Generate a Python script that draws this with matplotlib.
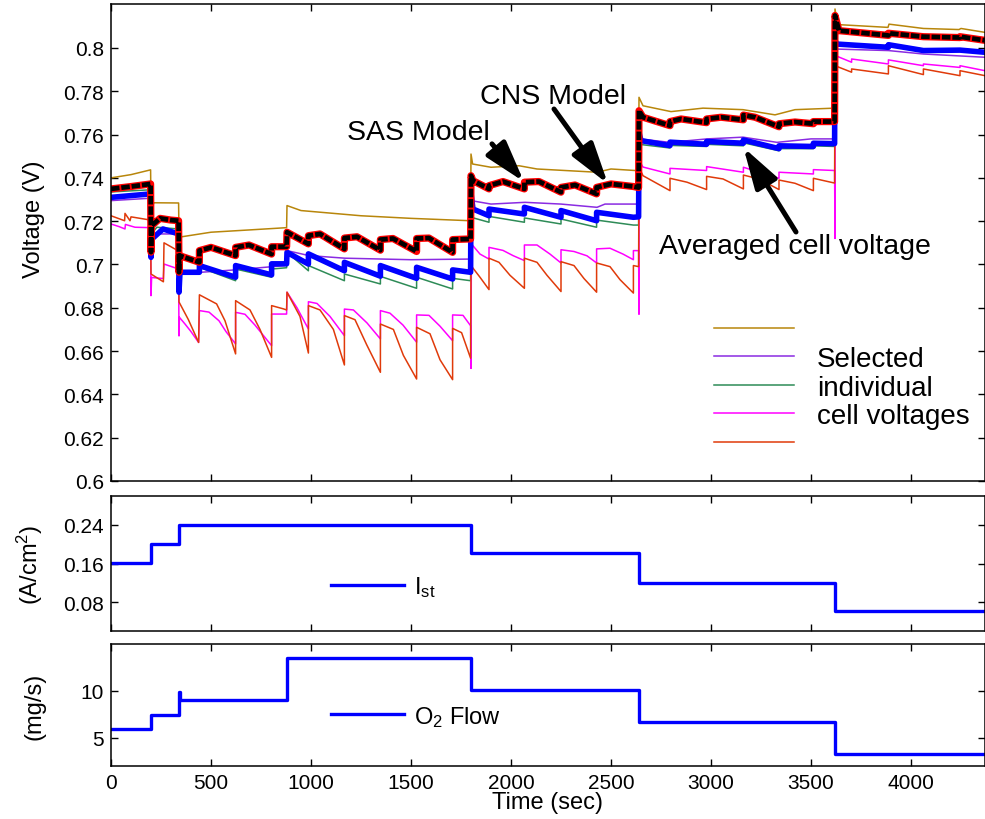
import matplotlib
matplotlib.use("Agg")
import matplotlib.pyplot as plt

plt.rcParams['font.family'] = ['Liberation Sans', 'DejaVu Sans']
plt.rcParams['mathtext.fontset'] = 'custom'
plt.rcParams['mathtext.rm'] = 'Liberation Sans'
plt.rcParams['mathtext.it'] = 'Liberation Sans'

# ---------------- data (time in s, voltage in V) ----------------
cell_brown = [(0, 0.7400), (100, 0.7415), (198, 0.7437), (200, 0.7256), (215, 0.7285), (338, 0.7284),
              (340, 0.7126), (500, 0.7149), (700, 0.7160), (878, 0.7170), (880, 0.7272), (950, 0.7249),
              (1250, 0.7225), (1500, 0.7213), (1798, 0.7202), (1800, 0.7510), (1808, 0.7464),
              (1900, 0.7449), (2040, 0.7456), (2130, 0.7441), (2430, 0.7426), (2500, 0.7441),
              (2638, 0.7433), (2640, 0.7772), (2660, 0.7733), (2800, 0.7706), (2960, 0.7722),
              (3160, 0.7715), (3320, 0.7691), (3420, 0.7715), (3618, 0.7722), (3620, 0.8180),
              (3632, 0.8108), (3885, 0.8095), (3890, 0.8110), (4062, 0.8090), (4240, 0.8085),
              (4250, 0.8090), (4370, 0.8072)]

cell_purple = [(0, 0.7295), (198, 0.7306), (200, 0.7141), (338, 0.7141), (340, 0.6964), (450, 0.6964),
               (620, 0.6975), (870, 0.6995), (880, 0.7064), (990, 0.7041), (1170, 0.7029),
               (1500, 0.7022), (1798, 0.7025), (1800, 0.7295), (1900, 0.7279), (2070, 0.7287),
               (2250, 0.7279), (2430, 0.7264), (2470, 0.7279), (2638, 0.7279), (2640, 0.7580),
               (2795, 0.7564), (2980, 0.7580), (3160, 0.7588), (3330, 0.7564), (3500, 0.7580),
               (3618, 0.7580), (3620, 0.7995), (3887, 0.7988), (4062, 0.7972), (4370, 0.7957)]

cell_green = [(0, 0.7335), (198, 0.7345), (200, 0.7141), (230, 0.7172), (338, 0.7164), (340, 0.6964),
              (442, 0.6956), (442, 0.6987), (623, 0.6925), (623, 0.6979), (803, 0.6941), (803, 0.6979),
              (878, 0.6985), (880, 0.7056), (987, 0.6971), (987, 0.6995), (1167, 0.6925),
              (1167, 0.6956), (1347, 0.6910), (1347, 0.6945), (1528, 0.6890), (1528, 0.6941),
              (1708, 0.6887), (1708, 0.6936), (1798, 0.6925), (1800, 0.7218), (1890, 0.7195),
              (1890, 0.7222), (2067, 0.7195), (2067, 0.7215), (2250, 0.7187), (2250, 0.7210),
              (2428, 0.7172), (2428, 0.7205), (2612, 0.7182), (2638, 0.7182), (2640, 0.7555),
              (2795, 0.7538), (2795, 0.7550), (2978, 0.7545), (2978, 0.7555), (3162, 0.7548),
              (3162, 0.7562), (3340, 0.7525), (3340, 0.7535), (3512, 0.7535), (3512, 0.7548),
              (3618, 0.7545), (3620, 0.8011), (3887, 0.8008), (3887, 0.8018), (4062, 0.7995),
              (4245, 0.7995), (4370, 0.7977)]

cell_magenta = [(0, 0.7187), (40, 0.7175), (70, 0.7164), (72, 0.7185), (120, 0.7172), (198, 0.7170),
                (200, 0.6856), (203, 0.6940), (262, 0.6935), (265, 0.7002), (338, 0.6979),
                (340, 0.6670), (342, 0.6756), (370, 0.6725), (400, 0.6690), (438, 0.6640),
                (442, 0.6787), (490, 0.6780), (540, 0.6740), (575, 0.6690), (623, 0.6633),
                (623, 0.6779), (670, 0.6770), (720, 0.6720), (803, 0.6625), (803, 0.6771),
                (878, 0.6771), (880, 0.6872), (930, 0.6800), (987, 0.6702), (987, 0.6828),
                (1030, 0.6820), (1095, 0.6760), (1167, 0.6671), (1167, 0.6794), (1212, 0.6790),
                (1280, 0.6730), (1347, 0.6656), (1347, 0.6787), (1395, 0.6775), (1460, 0.6720),
                (1528, 0.6641), (1528, 0.6767), (1590, 0.6765), (1645, 0.6715), (1708, 0.6648),
                (1708, 0.6767), (1760, 0.6765), (1798, 0.6717), (1800, 0.6520), (1802, 0.7095),
                (1845, 0.7048), (1890, 0.7025), (1890, 0.7079), (1960, 0.7065), (2010, 0.7041),
                (2067, 0.7018), (2067, 0.7090), (2130, 0.7090), (2195, 0.7048), (2250, 0.7007),
                (2250, 0.7068), (2315, 0.7060), (2380, 0.7040), (2428, 0.7007), (2428, 0.7072),
                (2495, 0.7075), (2560, 0.7048), (2612, 0.7022), (2612, 0.7064), (2638, 0.7064),
                (2640, 0.6770), (2641, 0.7480), (2660, 0.7450), (2795, 0.7418), (2795, 0.7444),
                (2978, 0.7434), (2978, 0.7452), (3162, 0.7426), (3162, 0.7449), (3340, 0.7398),
                (3340, 0.7426), (3512, 0.7418), (3512, 0.7438), (3618, 0.7434), (3620, 0.7120),
                (3621, 0.7965), (3703, 0.7934), (3703, 0.7949), (3887, 0.7926), (3887, 0.7945),
                (4062, 0.7918), (4062, 0.7926), (4245, 0.7910), (4245, 0.7918), (4370, 0.7895)]

cell_red = [(0, 0.7225), (68, 0.7202), (70, 0.7236), (95, 0.7202), (100, 0.7220), (198, 0.7205),
            (200, 0.6956), (262, 0.6920), (265, 0.7100), (338, 0.7062), (340, 0.6827), (387, 0.6745),
            (438, 0.6640), (442, 0.6860), (528, 0.6818), (570, 0.6740), (623, 0.6587), (623, 0.6833),
            (695, 0.6790), (745, 0.6700), (803, 0.6571), (803, 0.6810), (862, 0.6795), (878, 0.6790),
            (880, 0.6872), (945, 0.6760), (987, 0.6591), (987, 0.6810), (1045, 0.6790),
            (1112, 0.6700), (1167, 0.6536), (1167, 0.6764), (1220, 0.6745), (1278, 0.6630),
            (1347, 0.6502), (1347, 0.6725), (1412, 0.6700), (1462, 0.6580), (1528, 0.6471),
            (1528, 0.6710), (1595, 0.6680), (1645, 0.6560), (1708, 0.6468), (1708, 0.6705),
            (1753, 0.6685), (1798, 0.6567), (1800, 0.6995), (1845, 0.6941), (1890, 0.6884),
            (1890, 0.7029), (1940, 0.7010), (1995, 0.6950), (2067, 0.6890), (2067, 0.7029),
            (2130, 0.7010), (2180, 0.6950), (2250, 0.6875), (2250, 0.7013), (2315, 0.6995),
            (2365, 0.6935), (2428, 0.6872), (2428, 0.7007), (2495, 0.6990), (2545, 0.6930),
            (2612, 0.6868), (2612, 0.6995), (2638, 0.6990), (2640, 0.7449), (2660, 0.7410),
            (2795, 0.7341), (2795, 0.7398), (2880, 0.7380), (2978, 0.7346), (2978, 0.7407),
            (3060, 0.7395), (3162, 0.7349), (3162, 0.7413), (3240, 0.7395), (3340, 0.7346),
            (3340, 0.7390), (3420, 0.7375), (3512, 0.7341), (3512, 0.7398), (3618, 0.7376),
            (3620, 0.7918), (3703, 0.7888), (3703, 0.7903), (3887, 0.7880), (3887, 0.7918),
            (4062, 0.7877), (4062, 0.7903), (4245, 0.7872), (4245, 0.7895), (4370, 0.7872)]

avg_cell = [(0, 0.7310), (198, 0.7326), (200, 0.7033), (205, 0.7118), (260, 0.7164), (338, 0.7141),
            (340, 0.6872), (345, 0.6964), (442, 0.6964), (442, 0.6995), (623, 0.6941), (623, 0.6995),
            (803, 0.6952), (803, 0.7003), (878, 0.7003), (880, 0.7056), (987, 0.7002), (987, 0.7049),
            (1167, 0.6971), (1167, 0.7010), (1347, 0.6946), (1347, 0.6995), (1528, 0.6936),
            (1528, 0.6987), (1708, 0.6933), (1708, 0.6975), (1798, 0.6964), (1800, 0.7330),
            (1810, 0.7256), (1890, 0.7225), (1890, 0.7256), (2067, 0.7233), (2067, 0.7264),
            (2250, 0.7218), (2250, 0.7249), (2428, 0.7202), (2428, 0.7241), (2612, 0.7218),
            (2638, 0.7220), (2640, 0.7610), (2650, 0.7572), (2795, 0.7549), (2795, 0.7565),
            (2978, 0.7555), (2978, 0.7568), (3162, 0.7560), (3162, 0.7575), (3340, 0.7535),
            (3340, 0.7548), (3512, 0.7545), (3512, 0.7560), (3618, 0.7558), (3620, 0.8034),
            (3630, 0.8018), (3887, 0.8003), (3887, 0.8015), (4062, 0.7988), (4245, 0.7990),
            (4370, 0.7980)]

model = [(0, 0.7349), (100, 0.7360), (198, 0.7372), (200, 0.7057), (203, 0.7179), (245, 0.7213),
         (300, 0.7205), (338, 0.7202), (340, 0.6964), (342, 0.7041), (442, 0.7010), (442, 0.7064),
         (500, 0.7079), (623, 0.7041), (623, 0.7079), (690, 0.7090), (803, 0.7048), (803, 0.7082),
         (878, 0.7082), (880, 0.7149), (987, 0.7095), (987, 0.7133), (1045, 0.7141), (1167, 0.7072),
         (1167, 0.7122), (1230, 0.7128), (1347, 0.7066), (1347, 0.7115), (1410, 0.7120),
         (1528, 0.7060), (1528, 0.7120), (1590, 0.7122), (1708, 0.7056), (1708, 0.7115),
         (1798, 0.7118), (1800, 0.7410), (1810, 0.7387), (1890, 0.7349), (1890, 0.7364),
         (1960, 0.7383), (2067, 0.7349), (2067, 0.7380), (2140, 0.7383), (2250, 0.7334),
         (2250, 0.7356), (2320, 0.7367), (2428, 0.7326), (2428, 0.7356), (2500, 0.7372),
         (2612, 0.7360), (2638, 0.7355), (2640, 0.7710), (2660, 0.7680), (2795, 0.7641),
         (2795, 0.7660), (2850, 0.7672), (2978, 0.7655), (2978, 0.7672), (3050, 0.7680),
         (3162, 0.7668), (3162, 0.7690), (3220, 0.7680), (3340, 0.7636), (3340, 0.7650),
         (3420, 0.7658), (3512, 0.7650), (3512, 0.7660), (3618, 0.7660), (3620, 0.8150),
         (3640, 0.8080), (3887, 0.8058), (3887, 0.8068), (4062, 0.8052), (4245, 0.8048),
         (4245, 0.8052), (4370, 0.8035)]

ist_times = [0, 200, 340, 1800, 2640, 3620, 4370]
ist_values = [0.161, 0.200, 0.240, 0.181, 0.120, 0.0606, 0.0606]

o2_times = [0, 200, 340, 346, 880, 1800, 2640, 3620, 4370]
o2_values = [5.97, 7.41, 9.9, 8.99, 13.55, 10.14, 6.65, 3.27, 3.27]

time_ticks = [0, 500, 1000, 1500, 2000, 2500, 3000, 3500, 4000]
volt_ticks = [0.6, 0.62, 0.64, 0.66, 0.68, 0.7, 0.72, 0.74, 0.76, 0.78, 0.8]
volt_labels = ['0.6', '0.62', '0.64', '0.66', '0.68', '0.7', '0.72', '0.74', '0.76', '0.78', '0.8']
ist_ticks = [0.08, 0.16, 0.24]
o2_ticks = [5, 10]

annotations = [("SAS Model", (1180, 0.7612), (1905, 0.7557), (2065, 0.7382)),
               ("CNS Model", (1845, 0.7778), (2215, 0.7718), (2485, 0.7372)),
               ("Averaged cell voltage", (2740, 0.7085), (3425, 0.7150), (3162, 0.7541))]

legend_labels = [' ', 'Selected', 'individual', 'cell voltages', ' ']

# ---------------- styling ----------------
C_BROWN = '#B8860B'
C_PURPLE = '#8A2BE2'
C_GREEN = '#2E8B57'
C_MAGENTA = '#FF00FF'
C_RED = '#E03A0A'

fig = plt.figure(figsize=(9.85, 8.2), dpi=100)
W, H = 985.0, 820.0
x0, x1 = 111, 985
ax1 = fig.add_axes([x0 / W, 1 - 482 / H, (x1 - x0) / W, (482 - 5) / H])
ax2 = fig.add_axes([x0 / W, 1 - 632 / H, (x1 - x0) / W, (632 - 497) / H])
ax3 = fig.add_axes([x0 / W, 1 - 767 / H, (x1 - x0) / W, (767 - 645) / H])


def style(ax):
    ax.set_xlim(0, 4370)
    ax.set_xticks(time_ticks)
    ax.tick_params(direction='in', top=True, right=True, length=5, width=1.0,
                   labelsize=15, pad=5)
    for s in ax.spines.values():
        s.set_linewidth(1.1)


def unzip(pts):
    return [p[0] for p in pts], [p[1] for p in pts]


# --- top voltage panel
handles = []
for pts, col in [(cell_brown, C_BROWN), (cell_purple, C_PURPLE), (cell_green, C_GREEN),
                 (cell_magenta, C_MAGENTA), (cell_red, C_RED)]:
    t, v = unzip(pts)
    ln, = ax1.plot(t, v, color=col, lw=1.1)
    handles.append(ln)

t, v = unzip(avg_cell)
ax1.plot(t, v, color='#0000FF', lw=4.0, solid_joinstyle='round')
t, v = unzip(model)
ax1.plot(t, v, color='#FF0000', lw=5.2, solid_joinstyle='round')
ax1.plot(t, v, color='black', lw=3.4, linestyle=(0, (1.8, 0.4)))

style(ax1)
ax1.set_ylim(0.6, 0.8203)
ax1.set_yticks(volt_ticks)
ax1.set_yticklabels(volt_labels)
ax1.set_xticklabels([])
ax1.set_ylabel('Voltage (V)', fontsize=17)
ax1.yaxis.set_label_coords(-0.0755, 0.55)

for text, tpos, tail, tip in annotations:
    ax1.text(tpos[0], tpos[1], text, fontsize=20.5, va='center', ha='left')
    ax1.annotate('', xy=tip, xytext=tail,
                 arrowprops=dict(arrowstyle='-|>,head_length=1.0,head_width=0.3',
                                 mutation_scale=25, lw=3.6, color='black',
                                 shrinkA=0, shrinkB=0))

ax1.legend(handles, legend_labels, loc='upper left', bbox_to_anchor=(0.690, 0.3432),
           frameon=False, fontsize=20, handlelength=2.88, handletextpad=0.83,
           labelspacing=0.095, borderpad=0, borderaxespad=0)

# --- current panel
ax2.step(ist_times, ist_values, where='post', color='#0000FF', lw=2.4, label=r'$\mathregular{I_{st}}$')
style(ax2)
ax2.set_ylim(0.02, 0.30)
ax2.set_yticks(ist_ticks)
ax2.set_yticklabels(['0.08', '0.16', '0.24'])
ax2.set_xticklabels([])
ax2.set_ylabel(r'(A/cm$\mathregular{^2}$)', fontsize=17)
ax2.yaxis.set_label_coords(-0.0755, 0.5)
ax2.legend(loc='center left', bbox_to_anchor=(0.2517, 0.326), frameon=False, fontsize=17,
           handlelength=3.1, handletextpad=0.4, borderpad=0, borderaxespad=0)

# --- O2 panel
ax3.step(o2_times, o2_values, where='post', color='#0000FF', lw=2.4,
         label=r'$\mathregular{O_2}$ Flow')
style(ax3)
ax3.set_ylim(2, 15)
ax3.set_yticks(o2_ticks)
ax3.set_xticklabels([str(x) for x in time_ticks])
ax3.set_ylabel('(mg/s)', fontsize=17)
ax3.yaxis.set_label_coords(-0.0755, 0.5)
ax3.set_xlabel('Time (sec)', fontsize=17, labelpad=-1)
ax3.legend(loc='center left', bbox_to_anchor=(0.2517, 0.4094), frameon=False, fontsize=17,
           handlelength=3.1, handletextpad=0.4, borderpad=0, borderaxespad=0)

fig.savefig('out.png', dpi=100)
